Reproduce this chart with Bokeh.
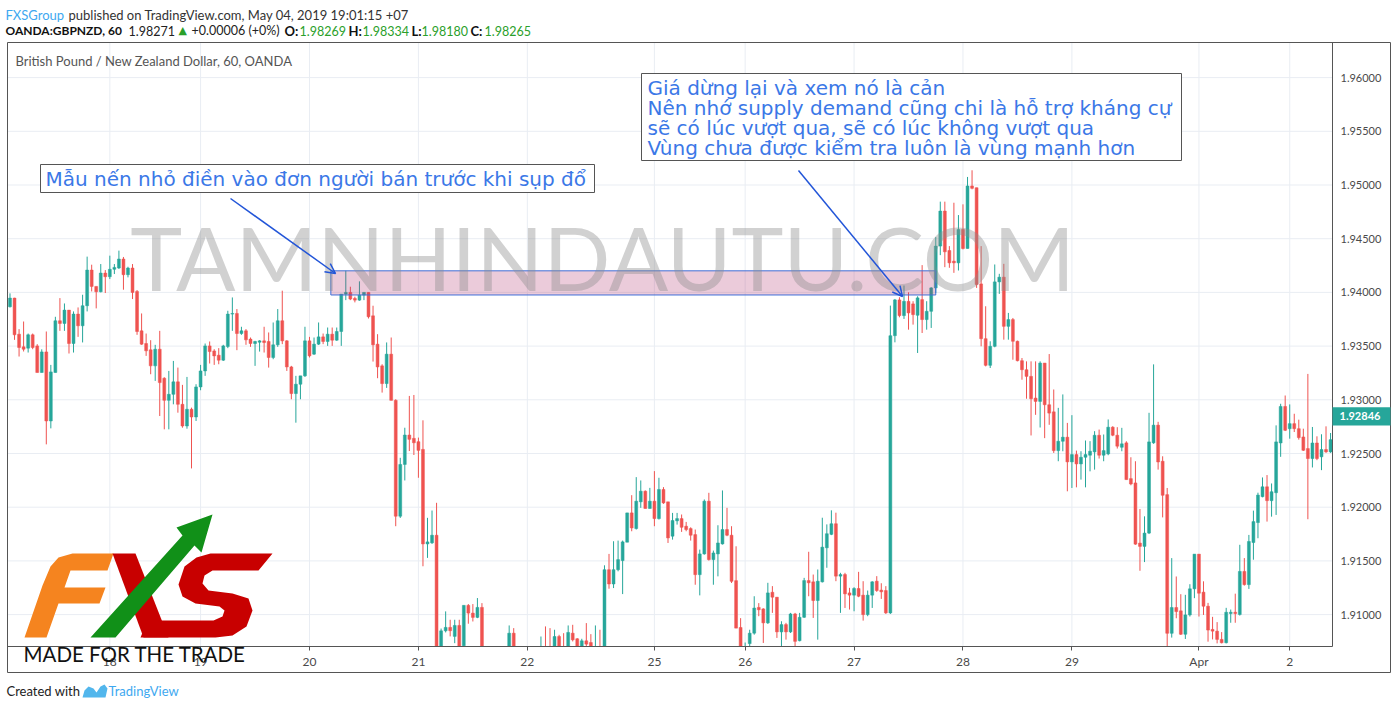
from bokeh.plotting import figure
from bokeh.models import (ColumnDataSource, FixedTicker, Label, BoxAnnotation,
                          Arrow, OpenHead, PolyAnnotation, NumeralTickFormatter, Range1d)
from bokeh.embed import file_html
from bokeh.resources import INLINE

# ---------------- data (hourly GBPNZD candles) ----------------
opens = [
    1.93866, 1.93947, 1.93611, 1.93493, 1.93481, 1.93605, 1.93502, 1.93254, 1.93446, 1.92803,
    1.93254, 1.93736, 1.93711, 1.93835, 1.93524, 1.93798, 1.93689, 1.93876, 1.94208, 1.94056,
    1.94006, 1.94180, 1.94146, 1.94215, 1.94227, 1.94311, 1.94165, 1.94227, 1.94009, 1.93642,
    1.93524, 1.93465, 1.93316, 1.93471, 1.93201, 1.92995, 1.93051, 1.93167, 1.92958, 1.92756,
    1.92912, 1.92840, 1.93120, 1.93269, 1.93502, 1.93455, 1.93415, 1.93369, 1.93496, 1.93798,
    1.93804, 1.93617, 1.93642, 1.93565, 1.93524, 1.93536, 1.93549, 1.93543, 1.93394, 1.93512,
    1.93736, 1.93549, 1.93306, 1.93058, 1.93145, 1.93223, 1.93549, 1.93425, 1.93518, 1.93586,
    1.93543, 1.93611, 1.93555, 1.93636, 1.93984, 1.94000, 1.93944, 1.93928, 1.93975, 1.94000,
    1.93782, 1.93518, 1.93316, 1.93151, 1.93425, 1.92995, 1.91916, 1.92398, 1.92672, 1.92641,
    1.92610, 1.92538, 1.91658, 1.91668, 1.91739, 1.90650, 1.90849, 1.90881, 1.90797, 1.90899,
    1.90710, 1.91086, 1.91014, 1.90974, 1.91067, 1.90650, 1.90590, 1.90620, 1.90600, 1.90640,
    1.90650, 1.90827, 1.90660, 1.90600, 1.90580, 1.90610, 1.90640, 1.90620, 1.90680, 1.90660,
    1.90660, 1.90796, 1.90680, 1.90660, 1.90827, 1.90775, 1.90690, 1.90756, 1.90740, 1.90660,
    1.90700, 1.90680, 1.91418, 1.91285, 1.91418, 1.91503, 1.91674, 1.91947, 1.91801, 1.92050,
    1.92149, 1.91988, 1.92056, 1.91894, 1.92165, 1.92050, 1.91730, 1.91873, 1.91894, 1.91823,
    1.91801, 1.91745, 1.91372, 1.91565, 1.92056, 1.91512, 1.91565, 1.91658, 1.91792, 1.91739,
    1.91316, 1.90880, 1.90660, 1.90730, 1.90827, 1.91067, 1.91053, 1.90923, 1.91208, 1.91162,
    1.90839, 1.90907, 1.90839, 1.91006, 1.90757, 1.90975, 1.91317, 1.91305, 1.91131, 1.91305,
    1.91622, 1.91747, 1.91846, 1.91358, 1.91373, 1.91202, 1.91181, 1.91243, 1.91181, 1.91000,
    1.91181, 1.91311, 1.91228, 1.91224, 1.91016, 1.93597, 1.93930, 1.93784, 1.93917, 1.93893,
    1.93787, 1.93933, 1.93747, 1.93824, 1.94042, 1.94431, 1.94757, 1.94390, 1.94291, 1.94275,
    1.94586, 1.94409, 1.94991, 1.94975, 1.94079, 1.93569, 1.93321, 1.93498, 1.94098, 1.94142,
    1.93684, 1.93747, 1.93545, 1.93364, 1.93280, 1.93218, 1.93016, 1.92985, 1.93342, 1.92954,
    1.92888, 1.92527, 1.92614, 1.92652, 1.92422, 1.92490, 1.92403, 1.92465, 1.92484, 1.92515,
    1.92670, 1.92484, 1.92496, 1.92745, 1.92670, 1.92558, 1.92599, 1.92266, 1.92226, 1.91666,
    1.91635, 1.91759, 1.92599, 1.92764, 1.92428, 1.92117, 1.90826, 1.91066, 1.91035, 1.90817,
    1.90997, 1.91240, 1.91563, 1.91209, 1.91078, 1.90862, 1.90846, 1.90769, 1.90738, 1.91010,
    1.91022, 1.91001, 1.91402, 1.91279, 1.91671, 1.91857, 1.92098, 1.92190, 1.92061, 1.92135,
    1.92598, 1.92938, 1.92731, 1.92778, 1.92731, 1.92654, 1.92546, 1.92453, 1.92598, 1.92469,
    1.92537, 1.92515,
]
highs = [
    1.93991, 1.93950, 1.93658, 1.93729, 1.93617, 1.93617, 1.93518, 1.93470, 1.93636, 1.93325,
    1.93773, 1.93947, 1.93897, 1.93835, 1.93823, 1.93860, 1.93978, 1.94333, 1.94258, 1.94056,
    1.94264, 1.94208, 1.94342, 1.94264, 1.94389, 1.94330, 1.94239, 1.94264, 1.94022, 1.93804,
    1.93617, 1.93555, 1.93512, 1.93642, 1.93210, 1.93269, 1.93362, 1.93300, 1.93139, 1.93213,
    1.92927, 1.93145, 1.93325, 1.93524, 1.93543, 1.93471, 1.93481, 1.93512, 1.93829, 1.93953,
    1.93845, 1.93680, 1.93658, 1.93580, 1.93549, 1.93555, 1.93680, 1.93627, 1.93720, 1.93845,
    1.94016, 1.93555, 1.93316, 1.93223, 1.93223, 1.93680, 1.93586, 1.93580, 1.93720, 1.93617,
    1.93673, 1.93673, 1.93673, 1.93984, 1.94202, 1.94053, 1.93960, 1.94103, 1.94000, 1.94000,
    1.93876, 1.93611, 1.93331, 1.93534, 1.93580, 1.93005, 1.92460, 1.92740, 1.93036, 1.93045,
    1.92648, 1.92809, 1.91901, 1.91969, 1.92041, 1.90870, 1.91030, 1.90952, 1.90952, 1.90952,
    1.91086, 1.91098, 1.91098, 1.91154, 1.91107, 1.90690, 1.90680, 1.90690, 1.90680, 1.90690,
    1.90899, 1.90874, 1.90690, 1.90680, 1.90660, 1.90690, 1.90690, 1.90796, 1.90890, 1.90874,
    1.90859, 1.90812, 1.90827, 1.90899, 1.90905, 1.90781, 1.90775, 1.90921, 1.90818, 1.90899,
    1.90859, 1.91459, 1.91565, 1.91683, 1.91689, 1.91689, 1.91947, 1.92112, 1.92280, 1.92249,
    1.92156, 1.92180, 1.92336, 1.92274, 1.92187, 1.92050, 1.91947, 1.91947, 1.91932, 1.91863,
    1.91813, 1.91792, 1.91605, 1.92072, 1.92134, 1.91596, 1.91832, 1.92156, 1.91994, 1.91823,
    1.91636, 1.90967, 1.90740, 1.90859, 1.91171, 1.91107, 1.91059, 1.91296, 1.91265, 1.91162,
    1.90938, 1.90923, 1.91016, 1.91016, 1.91016, 1.91342, 1.91585, 1.91373, 1.91420, 1.91902,
    1.91840, 1.91971, 1.91949, 1.91389, 1.91389, 1.91249, 1.91255, 1.91398, 1.91311, 1.91224,
    1.91311, 1.91358, 1.91292, 1.91265, 1.93877, 1.93939, 1.93955, 1.94064, 1.94001, 1.93918,
    1.93964, 1.94254, 1.93918, 1.94048, 1.94515, 1.94845, 1.94845, 1.94431, 1.94835, 1.94720,
    1.94820, 1.95075, 1.95137, 1.94975, 1.94431, 1.93871, 1.93545, 1.94260, 1.94173, 1.94266,
    1.93809, 1.93762, 1.93551, 1.93389, 1.93358, 1.93358, 1.93358, 1.93358, 1.93342, 1.93426,
    1.93096, 1.92925, 1.93050, 1.92785, 1.92857, 1.92527, 1.92521, 1.92621, 1.92615, 1.92708,
    1.92723, 1.92677, 1.92817, 1.92754, 1.92745, 1.92739, 1.92614, 1.92465, 1.92428, 1.91983,
    1.91915, 1.92879, 1.93330, 1.92795, 1.92474, 1.92179, 1.91526, 1.91355, 1.91190, 1.91184,
    1.91283, 1.91563, 1.91563, 1.91310, 1.91109, 1.90979, 1.90930, 1.90837, 1.91063, 1.91047,
    1.91195, 1.91650, 1.91526, 1.91742, 1.91968, 1.92135, 1.92277, 1.92299, 1.92221, 1.92762,
    1.92963, 1.93040, 1.92957, 1.92870, 1.92815, 1.92731, 1.93241, 1.92747, 1.92660, 1.92679,
    1.92753, 1.92691,
]
lows = [
    1.93860, 1.93558, 1.93403, 1.93450, 1.93440, 1.93471, 1.93254, 1.93254, 1.92585, 1.92734,
    1.93254, 1.93642, 1.93642, 1.93431, 1.93440, 1.93586, 1.93534, 1.93823, 1.94009, 1.93851,
    1.94000, 1.93994, 1.94124, 1.94171, 1.94218, 1.94025, 1.94140, 1.93938, 1.93605, 1.93512,
    1.93409, 1.93238, 1.93176, 1.92849, 1.92725, 1.92725, 1.92958, 1.92880, 1.92740, 1.92731,
    1.92361, 1.92803, 1.93089, 1.93223, 1.93338, 1.93325, 1.93331, 1.93362, 1.93481, 1.93642,
    1.93462, 1.93605, 1.93512, 1.93493, 1.93316, 1.93449, 1.93440, 1.93300, 1.93378, 1.93493,
    1.93518, 1.93269, 1.93005, 1.92787, 1.93005, 1.93213, 1.93394, 1.93418, 1.93511, 1.93518,
    1.93502, 1.93502, 1.93549, 1.93502, 1.93928, 1.93928, 1.93907, 1.93922, 1.93928, 1.93757,
    1.93356, 1.93201, 1.93067, 1.93111, 1.92995, 1.91823, 1.91900, 1.92249, 1.92523, 1.92486,
    1.92274, 1.91450, 1.91528, 1.91658, 1.90580, 1.90600, 1.90834, 1.90797, 1.90734, 1.90600,
    1.90690, 1.90915, 1.90936, 1.90967, 1.90600, 1.90560, 1.90540, 1.90570, 1.90550, 1.90580,
    1.90600, 1.90600, 1.90560, 1.90540, 1.90530, 1.90560, 1.90580, 1.90580, 1.90580, 1.90570,
    1.90600, 1.90620, 1.90600, 1.90620, 1.90750, 1.90640, 1.90660, 1.90680, 1.90650, 1.90620,
    1.90630, 1.90660, 1.91241, 1.91247, 1.91403, 1.91191, 1.91674, 1.91776, 1.91792, 1.91994,
    1.91988, 1.91988, 1.91823, 1.91885, 1.92031, 1.91667, 1.91698, 1.91838, 1.91770, 1.91776,
    1.91689, 1.91278, 1.91179, 1.91558, 1.91503, 1.91278, 1.91356, 1.91652, 1.91730, 1.91294,
    1.90874, 1.90620, 1.90630, 1.90680, 1.90813, 1.90985, 1.90736, 1.90913, 1.91016, 1.90783,
    1.90705, 1.90767, 1.90829, 1.90705, 1.90751, 1.90969, 1.91171, 1.90969, 1.90767, 1.91299,
    1.91436, 1.91740, 1.91311, 1.91016, 1.91062, 1.91047, 1.91031, 1.91162, 1.90944, 1.90985,
    1.91062, 1.91212, 1.91146, 1.91006, 1.91006, 1.93535, 1.93768, 1.93753, 1.93653, 1.93700,
    1.93436, 1.93622, 1.93653, 1.93669, 1.93995, 1.94347, 1.94235, 1.94229, 1.94182, 1.94204,
    1.94400, 1.94409, 1.94960, 1.94042, 1.93498, 1.93311, 1.93296, 1.93489, 1.93986, 1.93560,
    1.93560, 1.93373, 1.93358, 1.93187, 1.93010, 1.92668, 1.92860, 1.92742, 1.92643, 1.92767,
    1.92505, 1.92428, 1.92521, 1.92148, 1.92179, 1.92185, 1.92257, 1.92185, 1.92334, 1.92350,
    1.92453, 1.92428, 1.92484, 1.92661, 1.92546, 1.92521, 1.92257, 1.92204, 1.91650, 1.91408,
    1.91489, 1.91750, 1.92590, 1.92350, 1.91905, 1.90692, 1.90786, 1.90966, 1.90810, 1.90773,
    1.90982, 1.91153, 1.90982, 1.90997, 1.90748, 1.90769, 1.90732, 1.90732, 1.90732, 1.90924,
    1.90924, 1.90991, 1.91270, 1.91239, 1.91511, 1.91711, 1.92092, 1.91866, 1.91912, 1.91928,
    1.92469, 1.92709, 1.92638, 1.92700, 1.92629, 1.92524, 1.91888, 1.92370, 1.92438, 1.92345,
    1.92506, 1.92506,
]
closes = [
    1.93947, 1.93605, 1.93487, 1.93471, 1.93605, 1.93487, 1.93254, 1.93446, 1.92803, 1.93260,
    1.93736, 1.93711, 1.93835, 1.93524, 1.93798, 1.93689, 1.93876, 1.94208, 1.94056, 1.94006,
    1.94180, 1.94146, 1.94215, 1.94233, 1.94311, 1.94165, 1.94227, 1.94000, 1.93636, 1.93518,
    1.93456, 1.93316, 1.93471, 1.93160, 1.92995, 1.93051, 1.93167, 1.92958, 1.92756, 1.92912,
    1.92840, 1.93120, 1.93269, 1.93502, 1.93449, 1.93409, 1.93369, 1.93502, 1.93798, 1.93804,
    1.93617, 1.93642, 1.93558, 1.93524, 1.93543, 1.93549, 1.93533, 1.93394, 1.93512, 1.93736,
    1.93549, 1.93306, 1.93058, 1.93145, 1.93223, 1.93549, 1.93409, 1.93518, 1.93586, 1.93543,
    1.93611, 1.93555, 1.93636, 1.93984, 1.94000, 1.93938, 1.93928, 1.93975, 1.94000, 1.93773,
    1.93512, 1.93306, 1.93151, 1.93425, 1.92995, 1.91916, 1.92398, 1.92672, 1.92632, 1.92600,
    1.92529, 1.91658, 1.91677, 1.91739, 1.90600, 1.90849, 1.90881, 1.90850, 1.90899, 1.90680,
    1.91086, 1.91014, 1.90974, 1.91067, 1.90650, 1.90590, 1.90620, 1.90600, 1.90640, 1.90650,
    1.90827, 1.90660, 1.90600, 1.90580, 1.90610, 1.90640, 1.90620, 1.90680, 1.90640, 1.90630,
    1.90796, 1.90680, 1.90650, 1.90834, 1.90765, 1.90690, 1.90756, 1.90725, 1.90680, 1.90700,
    1.90680, 1.91418, 1.91285, 1.91418, 1.91512, 1.91677, 1.91947, 1.91807, 1.92056, 1.92149,
    1.91988, 1.92056, 1.91894, 1.92165, 1.92040, 1.91714, 1.91876, 1.91894, 1.91813, 1.91792,
    1.91739, 1.91372, 1.91565, 1.92056, 1.91512, 1.91574, 1.91667, 1.91792, 1.91739, 1.91310,
    1.90874, 1.90680, 1.90690, 1.90827, 1.91061, 1.91045, 1.90923, 1.91202, 1.91162, 1.90839,
    1.90907, 1.90839, 1.91006, 1.90751, 1.90975, 1.91317, 1.91296, 1.91131, 1.91311, 1.91628,
    1.91753, 1.91846, 1.91358, 1.91373, 1.91193, 1.91181, 1.91243, 1.91171, 1.91000, 1.91181,
    1.91305, 1.91224, 1.91212, 1.91016, 1.93597, 1.93930, 1.93784, 1.93917, 1.93809, 1.93793,
    1.93949, 1.93747, 1.93824, 1.94042, 1.94431, 1.94757, 1.94378, 1.94275, 1.94275, 1.94586,
    1.94409, 1.94991, 1.94969, 1.94073, 1.93569, 1.93321, 1.93498, 1.94098, 1.94142, 1.93684,
    1.93747, 1.93545, 1.93364, 1.93280, 1.93218, 1.93010, 1.92985, 1.93342, 1.92954, 1.92876,
    1.92527, 1.92614, 1.92652, 1.92422, 1.92490, 1.92403, 1.92465, 1.92490, 1.92521, 1.92670,
    1.92484, 1.92527, 1.92745, 1.92670, 1.92568, 1.92590, 1.92257, 1.92216, 1.91656, 1.91635,
    1.91759, 1.92608, 1.92764, 1.92421, 1.92111, 1.90826, 1.91066, 1.91028, 1.90817, 1.90997,
    1.91240, 1.91563, 1.91199, 1.91078, 1.90856, 1.90846, 1.90769, 1.90738, 1.91022, 1.91022,
    1.91010, 1.91402, 1.91279, 1.91681, 1.91866, 1.92113, 1.92190, 1.92061, 1.92144, 1.92608,
    1.92938, 1.92716, 1.92778, 1.92731, 1.92648, 1.92530, 1.92453, 1.92598, 1.92453, 1.92537,
    1.92515, 1.92629,
]

day_tick_index = [22, 42, 66, 90, 114, 142, 162, 186, 210, 234, 262, 282]
day_tick_labels = ["18", "19", "20", "21", "22", "25", "26", "27", "28", "29", "Apr", "2"]
price_ticks = [1.910, 1.915, 1.920, 1.925, 1.930, 1.935, 1.940, 1.945, 1.950, 1.955, 1.960]
last_price = 1.92846

zone_start, zone_end = 70.7, 204.0        # candle index span of the marked zone
zone_low, zone_high = 1.93976, 1.94201    # price span of the marked zone

header_1 = ["FXSGroup", "published on TradingView.com, May 04, 2019 19:01:15 +07"]
header_2 = ["OANDA:GBPNZD, 60", "1.98271", "\u25b2", "+0.00006 (+0%)",
            "O:", "1.98269", "H:", "1.98334", "L:", "1.98180", "C:", "1.98265"]
chart_title = "British Pound / New Zealand Dollar, 60, OANDA"
note_1 = "M\u1eabu n\u1ebfn nh\u1ecf \u0111i\u1ec1n v\u00e0o \u0111\u01a1n ng\u01b0\u1eddi b\u00e1n tr\u01b0\u1edbc khi s\u1ee5p \u0111\u1ed5"
note_2 = ["Gi\u00e1 d\u1eebng l\u1ea1i v\u00e0 xem n\u00f3 l\u00e0 c\u1ea3n",
          "N\u00ean nh\u1edb supply demand c\u0169ng chi l\u00e0 h\u1ed7 tr\u1ee3 kh\u00e1ng c\u1ef1",
          "s\u1ebd c\u00f3 l\u00fac v\u01b0\u1ee3t qua, s\u1ebd c\u00f3 l\u00fac kh\u00f4ng v\u01b0\u1ee3t qua",
          "V\u00f9ng ch\u01b0a \u0111\u01b0\u1ee3c ki\u1ec3m tra lu\u00f4n l\u00e0 v\u00f9ng m\u1ea1nh h\u01a1n"]
watermark = "TAMNHINDAUTU.COM"

# ---------------- view geometry (not data) ----------------
W, H = 1396, 709
X0, X1 = -2.092, 305.53            # index range across the whole canvas
Y0, Y1 = 1.901164, 1.967179        # price range across the whole canvas
PANE_L, PANE_R = -0.549, 291.43    # price pane, index units
PANE_B, PANE_T = 1.90703, 1.963246 # price pane, price units

UP, DOWN = "#26a69a", "#ef5350"
idx = list(range(len(opens)))
src = ColumnDataSource(dict(
    x=idx, open=opens, high=highs, low=lows, close=closes,
    top=[max(o, c) for o, c in zip(opens, closes)],
    bottom=[min(o, c) for o, c in zip(opens, closes)],
    color=[UP if c >= o else DOWN for o, c in zip(opens, closes)],
))

p = figure(width=W, height=H, title=None,
           x_range=Range1d(X0, X1), y_range=Range1d(Y0, Y1),
           y_axis_location="right", output_backend="svg", toolbar_location=None,
           min_border_left=0, min_border_right=0, min_border_top=0, min_border_bottom=0,
           background_fill_color="white", border_fill_color="white")
p.outline_line_color = None
p.xgrid.grid_line_color = None
p.ygrid.grid_line_color = None

# grid lines limited to the price pane
GRID = "#e9edf3"
p.segment(x0=day_tick_index, x1=day_tick_index, y0=[PANE_B] * len(day_tick_index),
          y1=[PANE_T] * len(day_tick_index), line_color=GRID, line_width=1, level="underlay")
p.segment(x0=[PANE_L] * len(price_ticks), x1=[PANE_R] * len(price_ticks), y0=price_ticks,
          y1=price_ticks, line_color=GRID, line_width=1, level="underlay")

# candles
p.segment(x0="x", y0="high", x1="x", y1="low", line_color="color", line_width=1, source=src)
p.vbar(x="x", width=0.64, top="top", bottom="bottom", fill_color="color",
       line_color="color", line_width=0.5, source=src)

# white strip under the pane (hides candle parts below the visible price range)
p.add_layout(BoxAnnotation(top=PANE_B, fill_color="white", fill_alpha=1.0, line_color=None,
                           level="glyph"))

# axes, drawn at the pane edges
xa, ya = p.xaxis[0], p.yaxis[0]
xa.fixed_location = PANE_B
ya.fixed_location = PANE_R
xa.bounds = (PANE_L, PANE_R)
ya.bounds = (PANE_B, PANE_T)
xa.ticker = FixedTicker(ticks=day_tick_index)
xa.major_label_overrides = {i: t for i, t in zip(day_tick_index, day_tick_labels)}
ya.ticker = FixedTicker(ticks=price_ticks)
ya.formatter = NumeralTickFormatter(format="0.00000")
for ax in (xa, ya):
    ax.axis_line_color = "#555555"
    ax.major_tick_line_color = "#555555"
    ax.minor_tick_line_color = None
    ax.major_label_text_color = "#4a4a4a"
    ax.major_label_text_font = "Lato"
    ax.major_tick_in = 0
xa.major_tick_out = 4
xa.major_label_standoff = 4
xa.major_label_text_font_size = "12px"
ya.major_tick_out = 0
ya.major_label_standoff = 8
ya.major_label_text_font_size = "11px"


def label(x, y, text, size="13px", color="#333333", font="Lato", style="normal",
          align="left", baseline="middle", alpha=1.0):
    p.add_layout(Label(x=x, y=y, x_units="canvas", y_units="canvas", text=text,
                       text_font=font, text_font_size=size, text_color=color,
                       text_font_style=style, text_align=align, text_baseline=baseline,
                       text_alpha=alpha))


def box(l, t, r, b, fill=None, line="#555555", lw=1):
    p.add_layout(BoxAnnotation(left=l, right=r, top=t, bottom=b,
                               left_units="canvas", right_units="canvas",
                               top_units="canvas", bottom_units="canvas",
                               fill_color=fill, fill_alpha=1.0 if fill else 0.0,
                               line_color=line, line_width=lw, line_alpha=1.0))


def poly(pts, color):
    p.add_layout(PolyAnnotation(xs=[x for x, _ in pts], ys=[y for _, y in pts],
                                xs_units="canvas", ys_units="canvas",
                                fill_color=color, fill_alpha=1.0, line_color=None))


# marked supply zone
p.add_layout(BoxAnnotation(left=zone_start, right=zone_end, bottom=zone_low, top=zone_high,
                           fill_color="#b0306a", fill_alpha=0.25,
                           line_color="#3f6fd8", line_width=1, line_alpha=1.0))

# watermark
label(602, 256, watermark, size="88px", color="#8c8c8c", alpha=0.4, align="center")

# pane border
box(7, 42, 1390, 672)

# header
label(5, 14, header_1[0], color="#3ea8f0")
label(68, 14, header_1[1], color="#333333")
h2_x = [5, 128, 178, 191, 284, 299, 348, 362, 411, 421, 470, 484]
h2_style = ["bold", "normal", "normal", "normal", "bold", "normal", "bold", "normal",
            "bold", "normal", "bold", "normal"]
h2_color = ["#111111", "#222222", "#2aa02a", "#222222", "#111111", "#2aa02a", "#111111",
            "#2aa02a", "#111111", "#2aa02a", "#111111", "#2aa02a"]
h2_size = ["12px", "12.5px", "11px", "12.5px", "13px", "12.5px", "13px", "12.5px",
           "13px", "12.5px", "13px", "12.5px"]
for x, t, s, c, z in zip(h2_x, header_2, h2_style, h2_color, h2_size):
    label(x, 30, t, style=s, color=c, size=z,
          font="DejaVu Sans" if t == "\u25b2" else "Lato")
label(15, 60, chart_title, color="#555555")

# annotation notes
NOTE = "#3b78e7"
box(40, 164, 594, 192, fill="white")
label(45, 178, note_1, size="20px", color=NOTE, font="DejaVu Sans")
box(641, 73, 1181, 160, fill="white")
for i, t in enumerate(note_2):
    label(647, 87 + i * 20, t, size="20px", color=NOTE, font="DejaVu Sans")

ARROW = "#2255d8"
for (x0, y0, x1, y1) in [(230, 198, 335, 273), (798, 170, 902, 296)]:
    p.add_layout(Arrow(x_start=x0, y_start=y0, x_end=x1, y_end=y1,
                       start_units="canvas", end_units="canvas",
                       line_color=ARROW, line_width=1.5,
                       end=OpenHead(size=10, line_color=ARROW, line_width=1.5)))

# last price marker on the price axis
p.add_layout(BoxAnnotation(left=1332, right=1390, left_units="canvas", right_units="canvas",
                           bottom=last_price - 0.00085, top=last_price + 0.00085,
                           fill_color="#26a69a", fill_alpha=1.0, line_color=None))
p.add_layout(Label(x=1339, y=last_price, x_units="canvas", y_units="data",
                   text=f"{last_price:.5f}", text_color="white", text_font="Lato",
                   text_font_style="bold", text_font_size="11px", text_baseline="middle"))

# FXS logo
poly([(24, 637), (42, 585), (50, 566), (58, 557), (72, 553), (113, 553), (107, 570),
      (70, 570), (64, 587), (105, 587), (99, 603), (58, 603), (46, 637)], "#f5841f")
poly([(112, 553), (135, 553), (168, 637), (143, 637)], "#c80000")
poly([(272, 553), (258, 570), (212, 570), (204, 575), (202, 583), (208, 590), (232, 593),
      (248, 598), (252, 610), (246, 626), (232, 635), (215, 637), (140, 637), (147, 620),
      (213, 620), (222, 616), (224, 610), (219, 606), (195, 603), (182, 596), (178, 584),
      (184, 566), (196, 557), (210, 553)], "#c80000")
poly([(90, 637), (182, 535), (176, 527), (212, 514), (201, 552), (194, 545), (115, 637)], "#119018")
label(23, 653, "MADE FOR THE TRADE", size="20.5px", color="#111111")

# footer
label(6, 690, "Created with", size="13px", color="#222222")
poly([(82, 697), (84, 690), (88, 686), (93, 688), (96, 692), (100, 686), (104, 684),
      (107, 688), (105, 697)], "#52b6ec")
label(108, 690, "TradingView", size="13px", color="#3ea8f0")

open("out.html", "w").write(file_html(p, INLINE))
